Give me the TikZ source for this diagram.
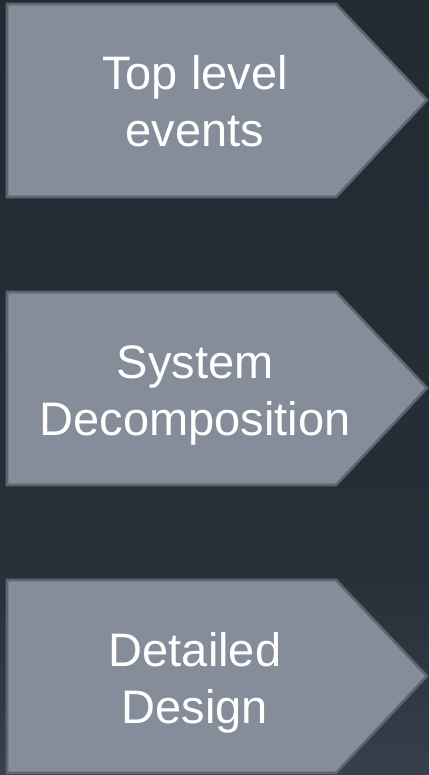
\documentclass[tikz,border=0pt]{standalone}
\usepackage{fontspec}
\setmainfont{Liberation Sans}
\begin{document}
\definecolor{bgtop}{HTML}{242A32}
\definecolor{bgmid}{HTML}{272E37}
\definecolor{bgbot}{HTML}{36404A}
\definecolor{stagefill}{HTML}{858D9A}
\definecolor{stageedge}{HTML}{5D6571}
\begin{tikzpicture}[x=1pt,y=-1pt,
  stagebox/.style={fill=stagefill,draw=stageedge,line width=2.6pt,line join=miter},
  stagetext/.style={text=white,align=center,font=\fontsize{47}{57}\selectfont,inner sep=0pt}]
  % background
  \useasboundingbox (0,0) rectangle (429,775);
  \shade[top color=bgtop,bottom color=bgmid] (0,0) rectangle (429,560);
  \shade[top color=bgmid,bottom color=bgbot] (0,560) rectangle (429,775);
  % three stage arrows, 288 apart
  \foreach \dy/\name in {0/s1,288/s2,576/s3}{
    \draw[stagebox] (7,4+\dy) -- (336,4+\dy) -- (427,100+\dy) -- (336,197+\dy)
      -- (7,197+\dy) -- cycle;
    \coordinate (\name) at (195,100+\dy);
  }
  \node[stagetext,anchor=base] (t1a) at (195,90) {Top level};
  \node[stagetext,anchor=base] (t1b) at (195,147) {events};
  \node[stagetext,anchor=base] (t2a) at (195,378) {System};
  \node[stagetext,anchor=base] (t2b) at (195,435) {Decomposition};
  \node[stagetext,anchor=base] (t3a) at (195,666) {Detailed};
  \node[stagetext,anchor=base] (t3b) at (195,723) {Design};
\end{tikzpicture}
\end{document}
